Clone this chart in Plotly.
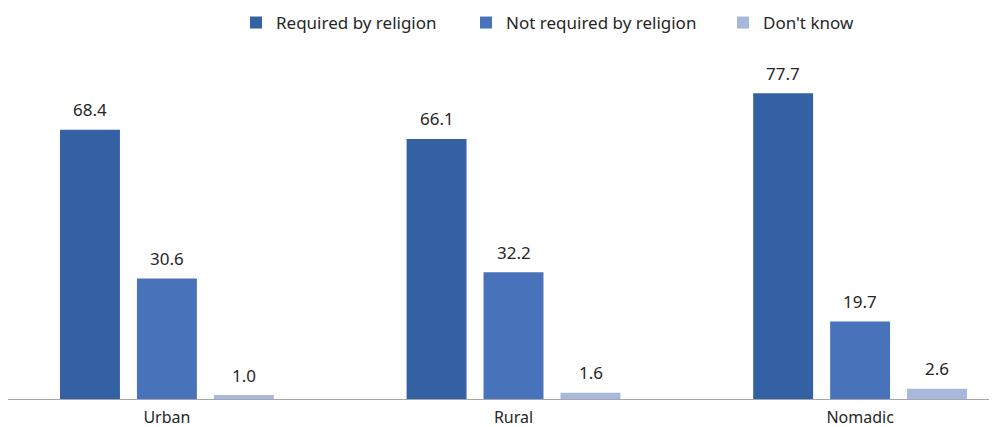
import plotly.graph_objects as go

categories = ["Urban", "Rural", "Nomadic"]
series_names = ["Required by religion", "Not required by religion", "Don't know"]
required = [68.4, 66.1, 77.7]
not_required = [30.6, 32.2, 19.7]
dont_know = [1.0, 1.6, 2.6]
colors = ["#3460A4", "#4872BA", "#A8B7DC"]

values = [required, not_required, dont_know]
legend_ids = ["legend", "legend2", "legend3"]
legend_text_start = [270, 500, 757]  # px within figure

fig = go.Figure()
annotations = []
for i, (name, vals, col) in enumerate(zip(series_names, values, colors)):
    fig.add_trace(go.Bar(
        x=categories, y=vals, name=name, marker_color=col, marker_line_width=0,
        legend=legend_ids[i],
    ))
    for c, v in zip(categories, vals):
        annotations.append(dict(
            x=c, y=v, xref="x", yref="y", text=f"{v:.1f}", showarrow=False,
            xshift=(i - 1) * 77, yshift=20, yanchor="middle",
            font=dict(size=17, color="#262626"),
        ))

W = 989
legend_layouts = {}
for lid, ts in zip(legend_ids, legend_text_start):
    legend_layouts[lid] = dict(
        orientation="h", x=(ts - 42) / W, xanchor="left", y=1.0774, yanchor="middle",
        font=dict(size=17), bgcolor="rgba(0,0,0,0)",
    )

fig.update_layout(
    width=W, height=419,
    margin=dict(l=0, r=0, t=42, b=28, autoexpand=False),
    barmode="group", bargap=0.334, bargroupgap=0.221,
    plot_bgcolor="white", paper_bgcolor="white",
    font=dict(family="Noto Sans, sans-serif", size=17, color="#262626"),
    showlegend=True,
    annotations=annotations,
    **legend_layouts,
)
fig.update_xaxes(range=[-0.4585, 2.395], showline=True, linecolor="#A6A6A6", linewidth=1,
                 ticks="", tickfont=dict(size=16, color="#262626"), showgrid=False,
                 ticklabelstandoff=4, automargin=False, fixedrange=True)
fig.update_yaxes(range=[0, 88.7], visible=False, showgrid=False, automargin=False)

fig.write_html("out.html")
